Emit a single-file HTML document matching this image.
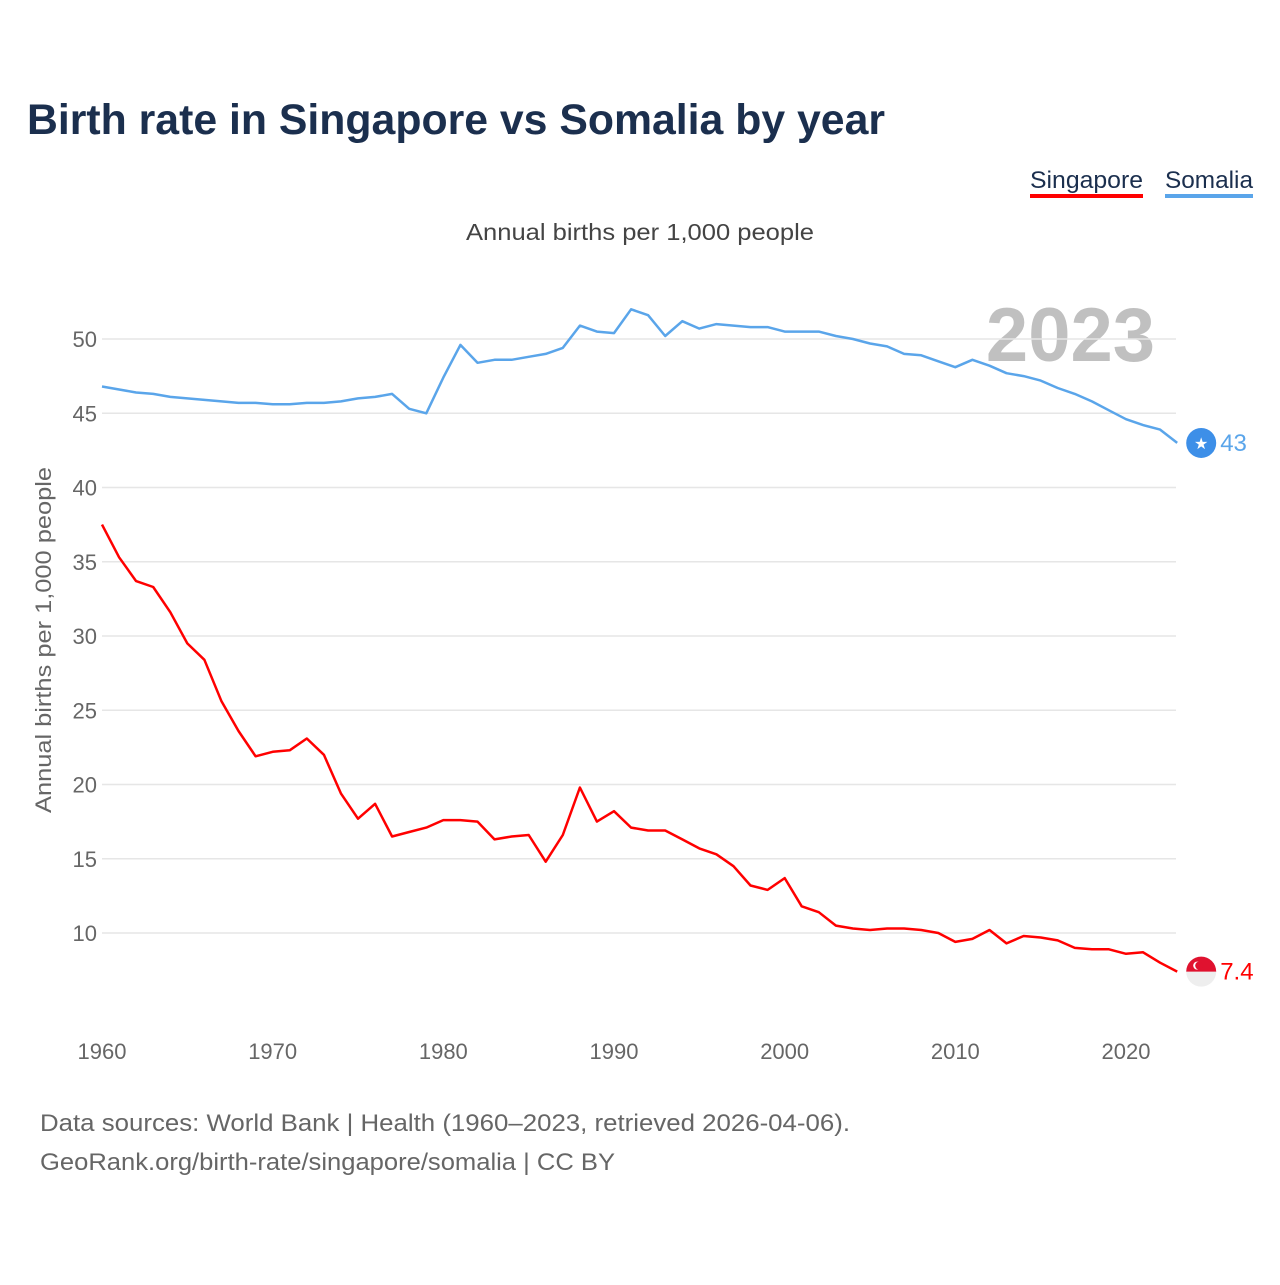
<!DOCTYPE html>
<html><head><meta charset="utf-8"><style>
body{margin:0;background:#fff;font-family:"Liberation Sans",sans-serif;}
svg text{font-family:"Liberation Sans",sans-serif;}
</style></head><body>
<svg width="1280" height="1280" viewBox="0 0 1280 1280">
<text x="27" y="134" font-size="43" font-weight="bold" fill="#1b2f4e" textLength="858" lengthAdjust="spacingAndGlyphs">Birth rate in Singapore vs Somalia by year</text>
<g><text x="1030" y="188" font-size="24" fill="#1b2f4e" textLength="113" lengthAdjust="spacingAndGlyphs">Singapore</text><rect x="1030" y="194" width="113" height="4" fill="#ff0000"/></g>
<g><text x="1165" y="188" font-size="24" fill="#1b2f4e" textLength="88" lengthAdjust="spacingAndGlyphs">Somalia</text><rect x="1165" y="194" width="88" height="4" fill="#5aa5ea"/></g>
<text x="466" y="240" font-size="23" fill="#444" textLength="348" lengthAdjust="spacingAndGlyphs">Annual births per 1,000 people</text>
<text x="1155" y="361" text-anchor="end" font-size="76" font-weight="bold" fill="#c0c0c0">2023</text>
<text transform="translate(51,813) rotate(-90)" font-size="22" fill="#666" textLength="346" lengthAdjust="spacingAndGlyphs">Annual births per 1,000 people</text>
<g id="grid"></g><g id="yt"></g><g id="xt"></g><g id="lines"></g>
<text x="40" y="1131" font-size="24" fill="#666" textLength="810" lengthAdjust="spacingAndGlyphs">Data sources: World Bank | Health (1960–2023, retrieved 2026-04-06).</text>
<text x="40" y="1170" font-size="24" fill="#666" textLength="575" lengthAdjust="spacingAndGlyphs">GeoRank.org/birth-rate/singapore/somalia | CC BY</text>
</svg>
<script>
const years=[];for(let y=1960;y<=2023;y++)years.push(y);
const somalia=[46.8,46.6,46.4,46.3,46.1,46.0,45.9,45.8,45.7,45.7,45.6,45.6,45.7,45.7,45.8,46.0,46.1,46.3,45.3,45.0,47.4,49.6,48.4,48.6,48.6,48.8,49.0,49.4,50.9,50.5,50.4,52.0,51.6,50.2,51.2,50.7,51.0,50.9,50.8,50.8,50.5,50.5,50.5,50.2,50.0,49.7,49.5,49.0,48.9,48.5,48.1,48.6,48.2,47.7,47.5,47.2,46.7,46.3,45.8,45.2,44.6,44.2,43.9,43.0];
const singapore=[37.5,35.3,33.7,33.3,31.6,29.5,28.4,25.6,23.6,21.9,22.2,22.3,23.1,22.0,19.4,17.7,18.7,16.5,16.8,17.1,17.6,17.6,17.5,16.3,16.5,16.6,14.8,16.6,19.8,17.5,18.2,17.1,16.9,16.9,16.3,15.7,15.3,14.5,13.2,12.9,13.7,11.8,11.4,10.5,10.3,10.2,10.3,10.3,10.2,10.0,9.4,9.6,10.2,9.3,9.8,9.7,9.5,9.0,8.9,8.9,8.6,8.7,8.0,7.4];
const yTicks=[10,15,20,25,30,35,40,45,50];
const xTicks=[1960,1970,1980,1990,2000,2010,2020];
const NS="http://www.w3.org/2000/svg";
const X=y=>102+(y-1960)*(1024/60);
const Y=v=>339+(50-v)*14.85;
function mk(tag,attrs,parent,txt){const e=document.createElementNS(NS,tag);for(const k in attrs)e.setAttribute(k,attrs[k]);if(txt!==undefined)e.textContent=txt;document.getElementById(parent).appendChild(e);return e;}
yTicks.forEach(v=>{
 const l=mk('line',{x1:102,x2:1176,y1:Y(v),y2:Y(v),stroke:'#e6e6e6','stroke-width':1.5},'grid');
 
 
 const t=mk('text',{x:97,y:Y(v)+8,'text-anchor':'end','font-size':22,fill:'#666'},'yt',v);
 
 
});
xTicks.forEach(v=>{
 const t=mk('text',{x:X(v),y:1059,'text-anchor':'middle','font-size':22,fill:'#666'},'xt',v);
 
 
});
function line(data,color,name){
 const d=data.map((v,i)=>(i?'L':'M')+X(years[i]).toFixed(1)+','+Y(v).toFixed(1)).join('');
 const p=mk('path',{d:d,fill:'none',stroke:color,'stroke-width':2.5,'stroke-linejoin':'round'},'lines');
 
 
}
line(somalia,'#5aa5ea','somalia-line');
line(singapore,'#ff0000','singapore-line');
const n=years.length-1;
const sx=X(years[n])+24;
const c1=mk('circle',{cx:sx,cy:Y(somalia[n]),r:15,fill:'#3d8fe8'},'lines');


mk('text',{x:sx,y:Y(somalia[n])+6,'text-anchor':'middle','font-size':16,fill:'#fff'},'lines','★');
const l1=mk('text',{x:sx+19,y:Y(somalia[n])+8,'font-size':24,fill:'#5aa5ea'},'lines',String(somalia[n]));


const cy=Y(singapore[n]);
const g=mk('g',{},'lines');


mk('circle',{cx:sx,cy:cy,r:15,fill:'#eeeeee'},'lines');
mk('path',{d:`M${sx-15},${cy} A15,15 0 0 1 ${sx+15},${cy} Z`,fill:'#e0122f'},'lines');
mk('circle',{cx:sx-4,cy:cy-6,r:4,fill:'#fff'},'lines');
mk('circle',{cx:sx-2,cy:cy-6,r:4,fill:'#e0122f'},'lines');
const l2=mk('text',{x:sx+19,y:cy+8,'font-size':24,fill:'#ff0000'},'lines',String(singapore[n]));


</script>
</body></html>
